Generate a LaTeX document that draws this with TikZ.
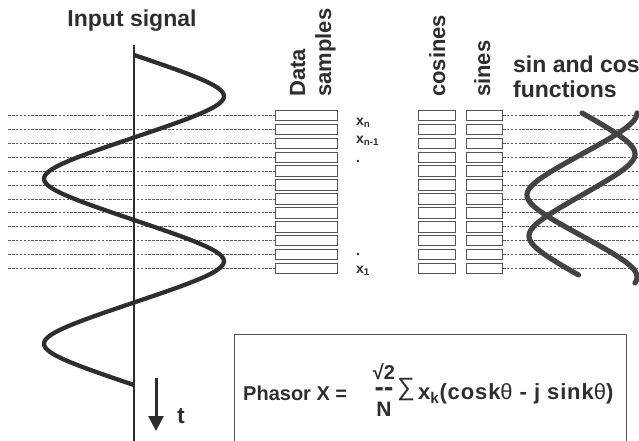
\documentclass[tikz,border=0pt]{standalone}
\usepackage{fontspec}
\setmainfont{Liberation Sans}
\usetikzlibrary{arrows.meta}
\definecolor{ink}{HTML}{2E2E2E}
\definecolor{boxc}{HTML}{555555}
\definecolor{guidec}{HTML}{5E5E5E}
\begin{document}
\begin{tikzpicture}[x=1pt,y=-1pt,
  cell/.style={draw=boxc, line width=0.9pt, minimum height=10.5pt, inner sep=0pt, fill=white},
  dcell/.style={cell, minimum width=62pt},
  ccell/.style={cell, minimum width=37pt},
  scell/.style={cell, minimum width=36pt},
  guide/.style={draw=guidec, line width=0.7pt, dash pattern=on 2.6pt off 1.3pt},
  wave/.style={draw=ink, line width=4.3pt, line join=round},
  wavetwo/.style={draw=ink!90, line width=5.2pt, line join=round, line cap=round},
  axisline/.style={draw=ink, line width=2.8pt},
  lbl/.style={font=\bfseries\fontsize{23}{26}\selectfont, text=ink, inner sep=0pt},
  vlbl/.style={rotate=90, anchor=base west, font=\bfseries\fontsize{22}{24}\selectfont, text=ink, inner sep=0pt},
  xl/.style={font=\bfseries\fontsize{14}{16}\selectfont, text=ink, inner sep=0pt, anchor=base west},
  fx/.style={font=\bfseries\fontsize{20}{24}\selectfont, text=ink, inner sep=0pt},
  fxr/.style={font=\bfseries\fontsize{22}{24}\selectfont\addfontfeature{LetterSpace=4}, text=ink, inner sep=0pt},
  sig/.style={font=\fontsize{25}{28}\selectfont, text=ink, inner sep=0pt}
]
\useasboundingbox (0,0) rectangle (639,441);

% sample cells and guide lines
\foreach \i in {1,...,12} {
  \pgfmathsetmacro\yy{115.5+13.9*(\i-1)}
  \coordinate (l\i) at (8,\yy);
  \coordinate (r\i) at (645,\yy);
  \node[dcell] (d\i) at (306.5,\yy) {};
  \node[ccell] (c\i) at (437,\yy) {};
  \node[scell] (s\i) at (484.5,\yy) {};
  \draw[guide] (l\i) -- (d\i.west);
  \draw[guide] (s\i.east) -- (r\i);
}

% time axis and input signal
\coordinate (axtop) at (134,45);
\coordinate (axbot) at (134,446);
\draw[axisline] (axtop) -- (axbot);
\draw[wave] plot[domain=55:385, samples=160, smooth] ({134+90*asin(0.8*sin(2.181818*(\x-55)))/53.13},\x);

% sin and cos functions
\draw[wavetwo] plot[domain=113:275, samples=100, smooth] ({582+53*asin(0.8*sin(2.195122*(\x-113)))/53.13},\x);
\draw[wavetwo] plot[domain=113:283, samples=100, smooth] ({582+55*asin(0.8*cos(2.195122*(\x-113)))/53.13},\x);

% labels
\node[lbl, anchor=base] (insig) at (132,27) {Input signal};
\node[vlbl] (data) at (305,97) {Data};
\node[vlbl] (samp) at (331,97) {samples};
\node[vlbl] (cosl) at (445,97) {cosines};
\node[vlbl] (sinl) at (490,97) {sines};
\node[lbl, anchor=base west] (sc1) at (513,73) {sin and cos};
\node[lbl, anchor=base west] (sc2) at (513,98) {functions};

\node[xl] (xn) at (356,125) {x\textsubscript{n}};
\node[xl] (xn1) at (356,143) {x\textsubscript{n-1}};
\node[xl] (dot1) at (356,162) {.};
\node[xl] (dot2) at (356,255) {.};
\node[xl] (x1) at (356,273) {x\textsubscript{1}};

% time arrow
\coordinate (ta) at (156,378);
\coordinate (tb) at (156,431);
\draw[draw=ink, line width=3pt, -{Triangle[width=15pt,length=15pt]}] (ta) -- (tb);
\node[lbl, anchor=base west] (tl) at (177,423) {t};

% phasor box
\node[draw=boxc, line width=1pt, minimum width=392pt, minimum height=126pt, anchor=north west, inner sep=0pt] (pbox) at (234,334) {};
\node[fx, anchor=base west] (ph) at (243,400) {Phasor X =};
\node[fx, anchor=base] (frac) at (384,396) {\makebox[20pt]{%
  \makebox[0pt]{\raisebox{16.5pt}{\fontsize{20}{24}\selectfont √2}}%
  \makebox[0pt]{\fontsize{28}{28}\selectfont -{}-}%
  \makebox[0pt]{\raisebox{-20pt}{\fontsize{21}{24}\selectfont N}}}};
\node[sig] (sum) at (406,390) {∑};
\node[fxr, anchor=base west] (rest) at (418,399) {x\textsubscript{k}(cosk{\mdseries θ} - j sink{\mdseries θ})};
\end{tikzpicture}
\end{document}
